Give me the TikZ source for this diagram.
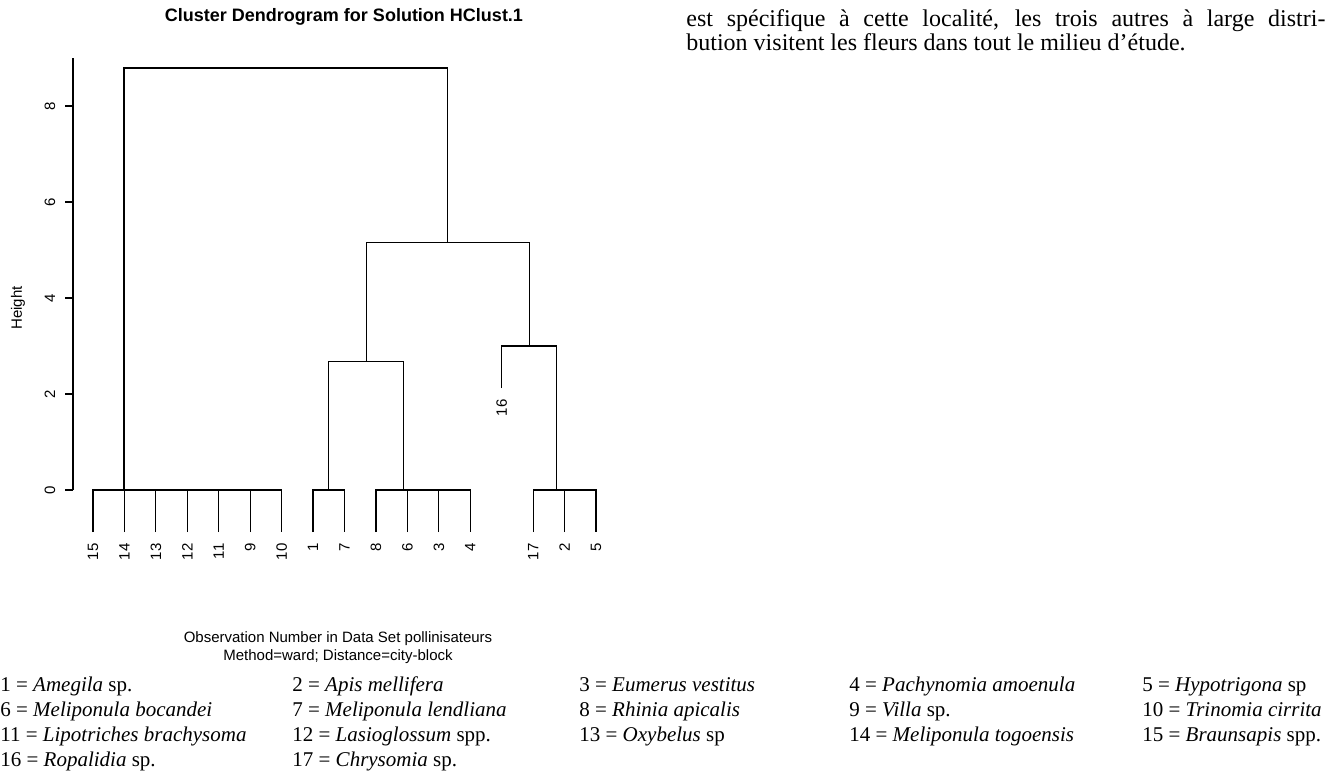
\documentclass[tikz,border=0pt]{standalone}
\usepackage{fontspec}
\setmainfont{Liberation Serif}
\newfontfamily\rsans{Liberation Sans}
\usetikzlibrary{calc}

\begin{document}
\begin{tikzpicture}[
    x=0.5pt, y=-0.5pt,
    branch/.style={line width=0.6pt},
    rlab/.style={font=\rsans\fontsize{7.5}{9}\selectfont, inner sep=0pt},
    leaflab/.style={rlab, rotate=90, anchor=east},
    legend/.style={font=\fontsize{10.5}{12}\selectfont, inner sep=0pt, anchor=base west},
    bodytext/.style={font=\fontsize{12}{14}\selectfont, inner sep=0pt, anchor=base west}
]
\useasboundingbox (0,0) rectangle (1341,782);

% titles of the plot
\node[rlab, font=\rsans\bfseries\fontsize{9}{11}\selectfont] (title) at (344,17) {Cluster Dendrogram for Solution HClust.1};
\node[rlab, rotate=90] (ytitle) at (18,308) {Height};
\node[rlab, align=center] (xtitle) at (338,648) {Observation Number in Data Set pollinisateurs\\Method=ward; Distance=city-block};

% dendrogram, heights in axis units
\begin{scope}[shift={(0,490)}, y=24pt]
\draw[branch] (73,0) -- (73,9);
\foreach \t in {0,2,...,8} {
  \draw[branch] (73,\t) -- (65,\t);
  \node[rlab, rotate=90] (tick\t) at (50,\t) {\t};
}
\foreach \lab [count=\i] in {15,14,13,12,11,9,10,1,7,8,6,3,4,16,17,2,5}
  \coordinate (l\lab) at ({93+31.44*(\i-1)},-0.88);
\coordinate (l16) at (501.7,2.12); % hangs from its merge
\foreach \lab in {15,14,13,12,11,9,10,1,7,8,6,3,4,16,17,2,5}
  \node[leaflab] (t\lab) at ([yshift=-5.5pt]l\lab) {\lab};

\foreach \m/\a/\b/\h in {m1/l9/l10/0, m2/l11/m1/0, m3/l12/m2/0, m4/l13/m3/0,
    m5/l14/m4/0, m6/l15/m5/0, m7/l1/l7/0, m8/l3/l4/0, m9/l6/m8/0, m10/l8/m9/0,
    m11/m7/m10/2.67, m12/l2/l5/0, m13/l17/m12/0, m14/l16/m13/3.0,
    m15/m11/m14/5.15, m16/m6/m15/8.79} {
  \coordinate (x\m) at ($(\a)!0.5!(\b)$);
  \coordinate (y\m) at (0,\h);
  \coordinate (\m) at (x\m |- y\m);
  \draw[branch] (\a) |- (\m) -| (\b);
}
\end{scope}

% key to the observation numbers
\foreach \n/\x/\y/\txt in {
    1/0/691/{\textit{Amegila} sp.}, 2/292/691/{\textit{Apis mellifera}},
    3/579/691/{\textit{Eumerus vestitus}}, 4/849/691/{\textit{Pachynomia amoenula}},
    5/1142/691/{\textit{Hypotrigona} sp},
    6/0/716/{\textit{Meliponula bocandei}}, 7/292/716/{\textit{Meliponula lendliana}},
    8/579/716/{\textit{Rhinia apicalis}}, 9/849/716/{\textit{Villa} sp.},
    10/1142/716/{\textit{Trinomia cirrita}},
    11/0/741/{\textit{Lipotriches brachysoma}}, 12/292/741/{\textit{Lasioglossum} spp.},
    13/579/741/{\textit{Oxybelus} sp}, 14/849/741/{\textit{Meliponula togoensis}},
    15/1142/741/{\textit{Braunsapis} spp.},
    16/0/766/{\textit{Ropalidia} sp.}, 17/292/766/{\textit{Chrysomia} sp.}}
  \node[legend] (sp\n) at (\x,\y) {\n{} = \txt};

% running text beside the figure
\node[bodytext] (line2) at (686,26) {\makebox[319.5pt][s]{est spécifique à cette localité, les trois autres à large distri-}};
\node[bodytext] (line3) at (686,50) {bution visitent les fleurs dans tout le milieu d’étude.};
\end{tikzpicture}
\end{document}
